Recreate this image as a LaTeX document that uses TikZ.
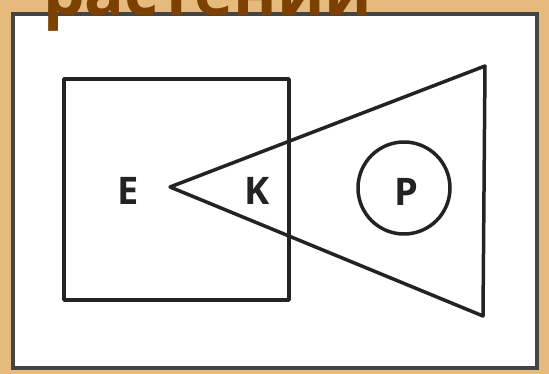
\documentclass[tikz,border=0pt]{standalone}
\usepackage{fontspec}
\setmainfont{Open Sans}
\definecolor{tanbg}{RGB}{230,186,124}
\definecolor{titlebrown}{RGB}{124,64,2}
\definecolor{ink}{RGB}{35,35,35}
\tikzset{
  shapeline/.style={draw=ink, line width=3.5pt, line join=round},
  letter/.style={font=\fontsize{38}{40}\selectfont\bfseries, text=ink, inner sep=0pt}
}
\begin{document}
\begin{tikzpicture}[x=1pt,y=-1pt]
\useasboundingbox (0,0) rectangle (549,374);
\fill[tanbg] (0,0) rectangle (549,374);
\draw[fill=white, draw=ink!85, line width=3.5pt] (13,14) rectangle (537,368);
\node[anchor=base west, inner sep=0pt, text=titlebrown, font=\fontsize{66}{66}\selectfont\bfseries] (title) at (43,16) {растений};
\draw[shapeline] (64,79) rectangle (289,300);
\coordinate (apex) at (170,187);
\coordinate (tr) at (485,66);
\coordinate (br) at (483,316);
\draw[shapeline] (apex) -- (tr) -- (br) -- cycle;
\node[shapeline, circle, minimum size=92pt, inner sep=0pt] (c) at (404,188) {};
\node[letter] (E) at (128,191) {E};
\node[letter] (K) at (257,191) {K};
\node[letter] (P) at (406,192) {P};
\end{tikzpicture}
\end{document}
